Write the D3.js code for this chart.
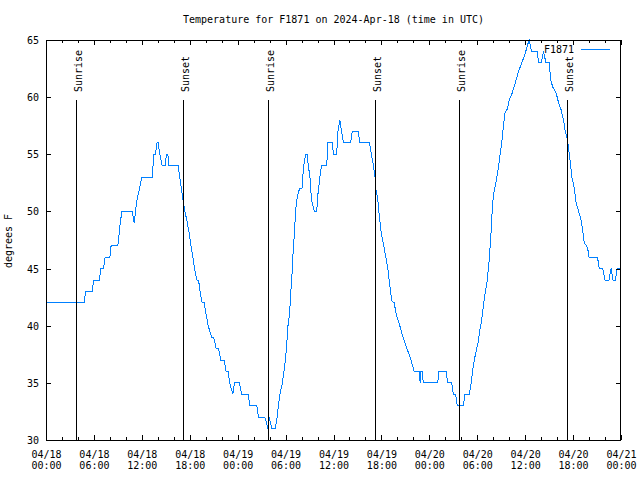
<!DOCTYPE html>
<html><head><meta charset="utf-8">
<script src="https://cdn.jsdelivr.net/npm/d3@7"></script>
<style>body{margin:0;background:#fff}svg{display:block}text{font-family:"DejaVu Sans Mono",monospace;font-size:10px;fill:#000}</style>
</head><body><svg id="c" width="640" height="480"></svg>
<script>
const title = "Temperature for F1871 on 2024-Apr-18 (time in UTC)";
const seriesName = "F1871";
const yLabel = "degrees F";
const startDate = "2024-04-18T00:00:00Z";
const endDate = "2024-04-21T00:00:00Z";
const yTicks = [30, 35, 40, 45, 50, 55, 60, 65];
const xMajorHours = [0, 6, 12, 18, 24, 30, 36, 42, 48, 54, 60, 66, 72];
const eventNames = ["Sunrise", "Sunset", "Sunrise", "Sunset", "Sunrise", "Sunset"];
const eventHours = [3.8, 17.2, 27.85, 41.23, 51.75, 65.28];
// hours since 2024-04-18 00:00 UTC
const hours = [0,4.8,4.95,5.8,5.95,6.7,6.85,7.2,7.4,8.0,8.15,9.0,9.15,9.3,9.5,10.8,11.05,11.2,11.4,11.7,12.0,13.3,13.4,13.5,13.7,13.9,14.05,14.25,14.55,14.9,15.1,15.25,15.4,16.55,16.75,16.95,17.15,17.4,17.7,17.95,18.15,18.4,18.6,18.9,19.1,19.3,19.55,19.8,20.05,20.3,20.75,21.0,21.3,21.6,21.9,22.3,22.55,22.8,23.0,23.2,23.4,23.6,24.2,24.5,25.3,25.55,26.4,26.6,27.4,27.6,27.8,27.95,28.1,28.3,28.7,28.95,29.1,29.3,29.6,29.9,30.1,30.3,30.5,30.65,30.77,30.95,31.1,31.25,31.4,31.6,31.8,32.05,32.15,32.35,32.55,32.7,32.85,33.05,33.25,33.45,33.6,33.9,34.05,34.3,34.5,35.15,35.3,35.85,36.0,36.4,36.55,36.8,37.0,37.25,38.15,38.35,39.1,39.3,40.5,40.75,41.0,41.2,41.3,41.55,41.75,42.0,42.3,42.55,42.8,43.05,43.3,43.6,43.85,44.3,44.7,45.2,45.7,46.1,46.75,46.85,46.95,47.1,47.25,49.05,49.2,50.1,50.3,50.8,51.0,51.3,51.5,52.26,52.47,53.0,53.25,53.5,53.8,54.1,54.3,54.55,54.9,55.2,55.5,55.76,55.9,56.1,56.4,56.6,56.85,57.06,57.26,57.5,57.8,58.0,58.3,58.7,59.1,59.57,60.0,60.27,60.5,60.8,61.5,61.7,62.0,62.3,62.6,63.0,63.2,63.45,63.9,64.15,64.5,64.8,65.0,65.3,65.55,65.85,66.1,66.4,66.7,67.0,67.2,67.4,67.7,67.9,68.0,69.06,69.27,69.7,70.0,70.5,70.75,71.0,71.3,71.5,72];
const tempF = [42,42,43,43,44,44,45,45,46,46,47,47,48,49,50,50,49,50,51,52,53,53,54,55,55,56,56,55,54,54,55,55,54,54,53,52,51,50,49,48,47,46,45,44,44,43,42,42,41,40,39,39,38,38,37,37,36,36,35,34.5,34,35,35,34,34,33,33,32,32,31.5,31,32,31.5,31,31,32,33,34,35,36.5,38,40,41,43,44,46.5,48,50,51,51.7,52,52,53,54.5,55,55,54,53,51,50.4,50,50,51.5,53,54,54,56,56,55,55,57,58,57,56,56,57,57,56,56,55,54,53,52,51,49.5,48,47,46,45,43.5,42.2,42,41,40,39,38,37,36,36,35,36,36,35,35,36,36,35,35,34,34,33,33,34,34,35,36.5,37.6,38.5,39.5,40.5,42.5,43.7,45.75,48.5,50.6,51.7,52.75,53.6,54.9,56,57.4,58.7,59,59.75,60.2,61.1,62.1,63,63.8,64.5,65,64,64,63,63,64,63,63,61.5,60.9,60.3,59.6,58.9,58,57.1,56.25,54.9,53,52.2,50.7,50,49.25,48.4,47.2,47,46.5,46,46,45,45,44,44,45,44,44,45,45];

const L = 46, R = 621, T = 40, B = 440;
const base = new Date(startDate).getTime();
const toDate = h => new Date(base + h * 3600e3);
const x = d3.scaleUtc().domain([new Date(startDate), new Date(endDate)]).range([L, R]);
const y = d3.scaleLinear().domain([30, 65]).range([B, T]);
const svg = d3.select("#c");
const crisp = v => Math.floor(v) + 0.5;

const pts = hours.map((h, i) => [toDate(h), tempF[i]]);
const line = d3.line().x(d => x(d[0])).y(d => y(d[1]));
svg.append("path").datum(pts).attr("d", line).attr("fill", "none")
  .attr("stroke", "#0080ff").attr("stroke-width", 1).attr("shape-rendering", "crispEdges");

// sunrise / sunset lines
eventHours.forEach((h, i) => {
  const xv = crisp(x(toDate(h)));
  svg.append("line").attr("x1", xv).attr("x2", xv).attr("y1", 100).attr("y2", B)
    .attr("stroke", "#000").attr("stroke-width", 1).attr("shape-rendering", "crispEdges");
  svg.append("text").attr("transform", `translate(${xv + 5.5},92) rotate(-90)`)
    .attr("text-anchor", "start").text(eventNames[i]);
});

const majorDates = xMajorHours.map(toDate);
const minorDates = d3.range(0, 73, 2).filter(h => h % 6 !== 0).map(toDate);
function style(g) {
  g.select(".domain").remove();
  g.selectAll("line").attr("stroke", "#000").attr("shape-rendering", "crispEdges");
  g.attr("font-family", null).attr("font-size", null);
}
// bottom major with labels
const gb = svg.append("g").attr("transform", `translate(0,${B})`)
  .call(d3.axisBottom(x).tickValues(majorDates).tickSize(-5).tickPadding(0)
  .tickFormat(d3.utcFormat("%m/%d|%H:%M"))).call(style);
gb.selectAll(".tick text").each(function(d) {
  const s = d3.utcFormat("%m/%d|%H:%M")(d).split("|");
  const t = d3.select(this).text(null).attr("y", null).attr("dy", null).attr("fill", "#000");
  t.append("tspan").attr("x", 0).attr("y", 17.5).text(s[0]);
  t.append("tspan").attr("x", 0).attr("y", 28.5).text(s[1]);
});
svg.append("g").attr("transform", `translate(0,${B})`)
  .call(d3.axisBottom(x).tickValues(minorDates).tickSize(-3).tickFormat("")).call(style);
svg.append("g").attr("transform", `translate(0,${T})`)
  .call(d3.axisTop(x).tickValues(majorDates).tickSize(-5).tickFormat("")).call(style);
svg.append("g").attr("transform", `translate(0,${T})`)
  .call(d3.axisTop(x).tickValues(minorDates).tickSize(-3).tickFormat("")).call(style);
const gl = svg.append("g").attr("transform", `translate(${L},0)`)
  .call(d3.axisLeft(y).tickValues(yTicks).tickSize(-5).tickPadding(7)).call(style);
gl.selectAll(".tick text").attr("fill", "#000").attr("dy", "0.35em");
svg.append("g").attr("transform", `translate(${R},0)`)
  .call(d3.axisRight(y).tickValues(yTicks).tickSize(-5).tickFormat("")).call(style);

svg.append("rect").attr("x", L + 0.5).attr("y", T + 0.5).attr("width", R - L - 1).attr("height", B - T)
  .attr("fill", "none").attr("stroke", "#000").attr("shape-rendering", "crispEdges");

svg.append("text").attr("x", 333.5).attr("y", 23).attr("text-anchor", "middle").text(title);
svg.append("text").attr("transform", "translate(12,241) rotate(-90)").attr("text-anchor", "middle").text(yLabel);
svg.append("text").attr("x", 574).attr("y", 52.5).attr("text-anchor", "end").text(seriesName);
svg.append("line").attr("x1", 581).attr("x2", 610).attr("y1", 49.5).attr("y2", 49.5)
  .attr("stroke", "#0080ff").attr("stroke-width", 1).attr("shape-rendering", "crispEdges");
</script></body></html>
